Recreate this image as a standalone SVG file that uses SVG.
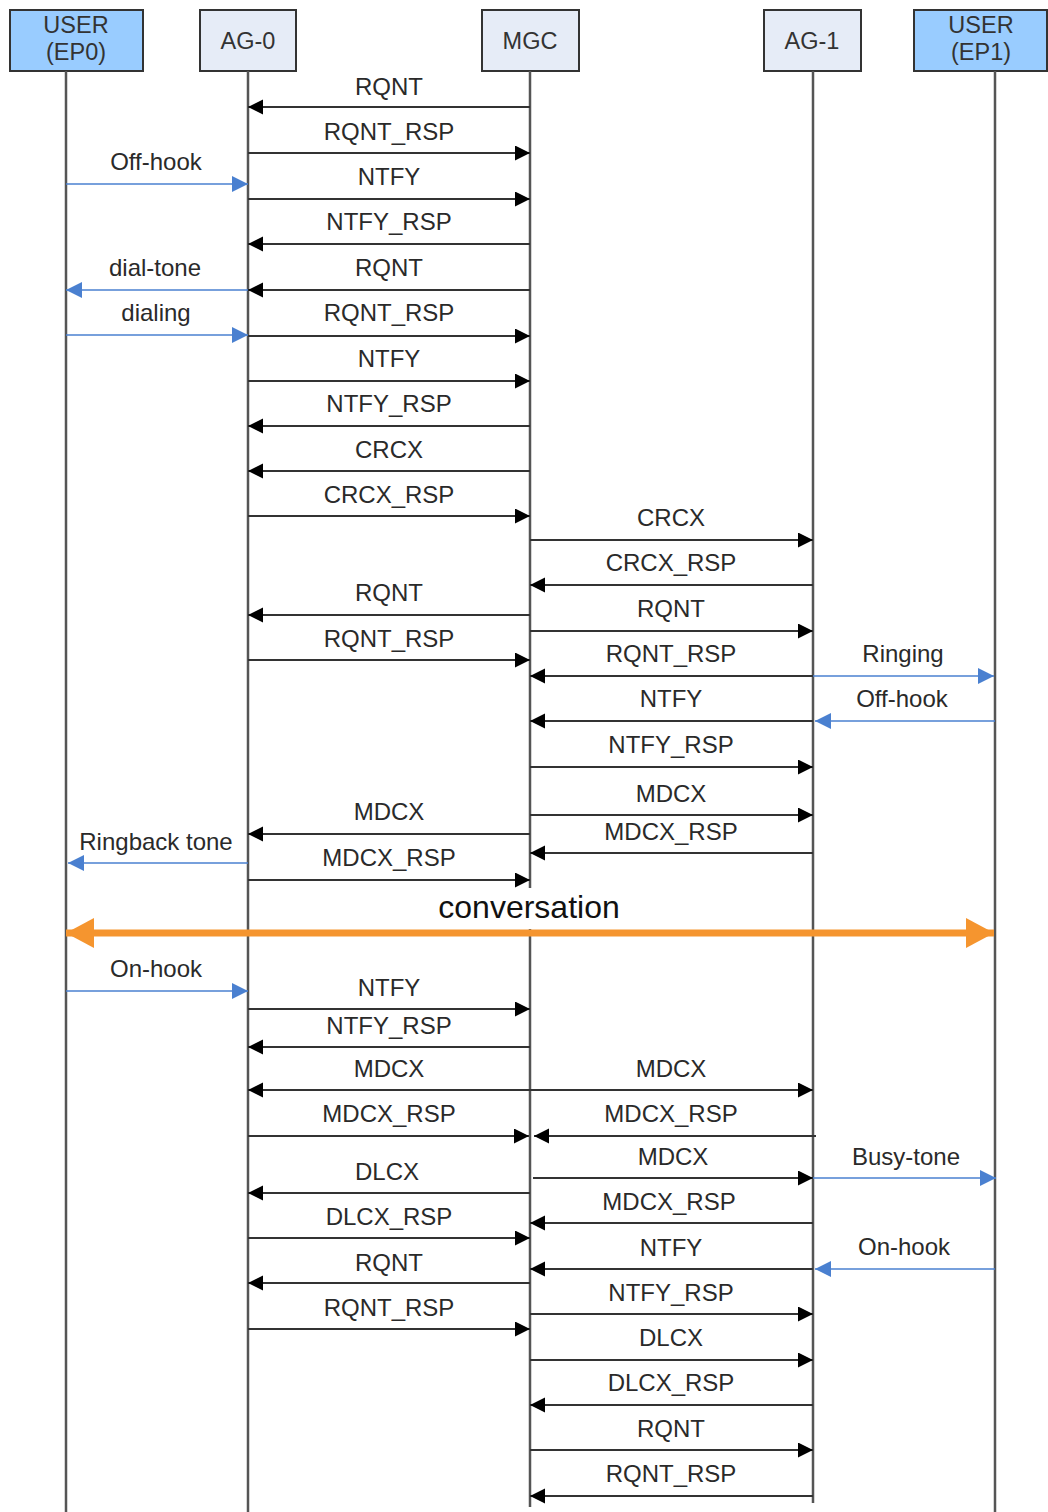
<svg xmlns="http://www.w3.org/2000/svg" width="1048" height="1512" viewBox="0 0 1048 1512">
  <style>
    text { font-family: "Liberation Sans", Arial, sans-serif; fill: #2a2a2a; }
    .lbl { font-size: 24px; text-anchor: middle; }
    .hdr { font-size: 23.5px; text-anchor: middle; fill: #333; }
    .big { font-size: 32px; text-anchor: middle; fill: #111; }
    .box-user { fill: #99ccff; stroke: #333; stroke-width: 2; }
    .box-ent { fill: #e6ecf7; stroke: #333; stroke-width: 2; }
    .life { stroke: #555; stroke-width: 2.5; fill: none; }
    .msg { stroke: #333; stroke-width: 2.2; fill: none; marker-end: url(#head); }
    .sig { stroke: #4a80d0; stroke-width: 1.6; fill: none; marker-end: url(#headBlue); }
    .conv { stroke: #f5952f; stroke-width: 7; fill: none; marker-start: url(#headOrangeL); marker-end: url(#headOrange); }
  </style>
  <defs>
    <marker id="head" markerUnits="userSpaceOnUse" markerWidth="16" markerHeight="16" refX="15" refY="7.5" orient="auto">
      <path d="M0,0 L15,7.5 L0,15 z" fill="#000"/>
    </marker>
    <marker id="headBlue" markerUnits="userSpaceOnUse" markerWidth="18" markerHeight="18" refX="16" refY="8" orient="auto">
      <path d="M0,0 L16,8 L0,16 z" fill="#4a80d0"/>
    </marker>
    <marker id="headOrange" markerUnits="userSpaceOnUse" markerWidth="30" markerHeight="32" refX="28" refY="15" orient="auto">
      <path d="M0,0 L28,15 L0,30 z" fill="#f5952f"/>
    </marker>
    <marker id="headOrangeL" markerUnits="userSpaceOnUse" markerWidth="30" markerHeight="32" refX="0" refY="15" orient="auto">
      <path d="M28,0 L0,15 L28,30 z" fill="#f5952f"/>
    </marker>
  </defs>

  <rect width="1048" height="1512" fill="#fff"/>

  <!-- participants -->
  <g id="ep0">
    <rect class="box-user" x="10" y="10" width="133" height="61"/>
    <text class="hdr" x="76" y="33">USER</text>
    <text class="hdr" x="76" y="60">(EP0)</text>
    <line class="life" x1="66" y1="71" x2="66" y2="1512"/>
  </g>
  <g id="ag0">
    <rect class="box-ent" x="200" y="10" width="96" height="61"/>
    <text class="hdr" x="248" y="49">AG-0</text>
    <line class="life" x1="248" y1="71" x2="248" y2="1512"/>
  </g>
  <g id="mgc">
    <rect class="box-ent" x="482" y="10" width="97" height="61"/>
    <text class="hdr" x="530" y="49">MGC</text>
    <line class="life" x1="530" y1="71" x2="530" y2="888"/>
    <line class="life" x1="530" y1="929" x2="530" y2="1507"/>
  </g>
  <g id="ag1">
    <rect class="box-ent" x="764" y="10" width="97" height="61"/>
    <text class="hdr" x="812" y="49">AG-1</text>
    <line class="life" x1="813" y1="71" x2="813" y2="1503"/>
  </g>
  <g id="ep1">
    <rect class="box-user" x="914" y="10" width="133" height="61"/>
    <text class="hdr" x="981" y="33">USER</text>
    <text class="hdr" x="981" y="60">(EP1)</text>
    <line class="life" x1="995" y1="71" x2="995" y2="1512"/>
  </g>

  <!-- messages -->
  <g id="connectors">
    <!-- AG-0 / MGC -->
    <line class="msg" x1="530" y1="107" x2="248" y2="107"/><text class="lbl" x="389" y="95">RQNT</text>
    <line class="msg" x1="248" y1="153" x2="530" y2="153"/><text class="lbl" x="389" y="140">RQNT_RSP</text>
    <line class="msg" x1="248" y1="199" x2="530" y2="199"/><text class="lbl" x="389" y="185">NTFY</text>
    <line class="msg" x1="530" y1="244" x2="248" y2="244"/><text class="lbl" x="389" y="230">NTFY_RSP</text>
    <line class="msg" x1="530" y1="290" x2="248" y2="290"/><text class="lbl" x="389" y="276">RQNT</text>
    <line class="msg" x1="248" y1="336" x2="530" y2="336"/><text class="lbl" x="389" y="321">RQNT_RSP</text>
    <line class="msg" x1="248" y1="381" x2="530" y2="381"/><text class="lbl" x="389" y="367">NTFY</text>
    <line class="msg" x1="530" y1="426" x2="248" y2="426"/><text class="lbl" x="389" y="412">NTFY_RSP</text>
    <line class="msg" x1="530" y1="471" x2="248" y2="471"/><text class="lbl" x="389" y="458">CRCX</text>
    <line class="msg" x1="248" y1="516" x2="530" y2="516"/><text class="lbl" x="389" y="503">CRCX_RSP</text>
    <line class="msg" x1="530" y1="615" x2="248" y2="615"/><text class="lbl" x="389" y="601">RQNT</text>
    <line class="msg" x1="248" y1="660" x2="530" y2="660"/><text class="lbl" x="389" y="647">RQNT_RSP</text>
    <line class="msg" x1="530" y1="834" x2="248" y2="834"/><text class="lbl" x="389" y="820">MDCX</text>
    <line class="msg" x1="248" y1="880" x2="530" y2="880"/><text class="lbl" x="389" y="866">MDCX_RSP</text>
    <line class="msg" x1="248" y1="1009" x2="530" y2="1009"/><text class="lbl" x="389" y="996">NTFY</text>
    <line class="msg" x1="530" y1="1047" x2="248" y2="1047"/><text class="lbl" x="389" y="1034">NTFY_RSP</text>
    <line class="msg" x1="530" y1="1090" x2="248" y2="1090"/><text class="lbl" x="389" y="1077">MDCX</text>
    <line class="msg" x1="248" y1="1136" x2="529" y2="1136"/><text class="lbl" x="389" y="1122">MDCX_RSP</text>
    <line class="msg" x1="530" y1="1193" x2="248" y2="1193"/><text class="lbl" x="387" y="1180">DLCX</text>
    <line class="msg" x1="248" y1="1238" x2="530" y2="1238"/><text class="lbl" x="389" y="1225">DLCX_RSP</text>
    <line class="msg" x1="530" y1="1283" x2="248" y2="1283"/><text class="lbl" x="389" y="1271">RQNT</text>
    <line class="msg" x1="248" y1="1329" x2="530" y2="1329"/><text class="lbl" x="389" y="1316">RQNT_RSP</text>

    <!-- MGC / AG-1 -->
    <line class="msg" x1="530" y1="540" x2="813" y2="540"/><text class="lbl" x="671" y="526">CRCX</text>
    <line class="msg" x1="813" y1="585" x2="530" y2="585"/><text class="lbl" x="671" y="571">CRCX_RSP</text>
    <line class="msg" x1="530" y1="631" x2="813" y2="631"/><text class="lbl" x="671" y="617">RQNT</text>
    <line class="msg" x1="813" y1="676" x2="530" y2="676"/><text class="lbl" x="671" y="662">RQNT_RSP</text>
    <line class="msg" x1="813" y1="721" x2="530" y2="721"/><text class="lbl" x="671" y="707">NTFY</text>
    <line class="msg" x1="530" y1="767" x2="813" y2="767"/><text class="lbl" x="671" y="753">NTFY_RSP</text>
    <line class="msg" x1="530" y1="815" x2="813" y2="815"/><text class="lbl" x="671" y="802">MDCX</text>
    <line class="msg" x1="813" y1="853" x2="530" y2="853"/><text class="lbl" x="671" y="840">MDCX_RSP</text>
    <line class="msg" x1="530" y1="1090" x2="813" y2="1090"/><text class="lbl" x="671" y="1077">MDCX</text>
    <line class="msg" x1="816" y1="1136" x2="534" y2="1136"/><text class="lbl" x="671" y="1122">MDCX_RSP</text>
    <line class="msg" x1="533" y1="1178" x2="813" y2="1178"/><text class="lbl" x="673" y="1165">MDCX</text>
    <line class="msg" x1="813" y1="1223" x2="530" y2="1223"/><text class="lbl" x="669" y="1210">MDCX_RSP</text>
    <line class="msg" x1="813" y1="1269" x2="530" y2="1269"/><text class="lbl" x="671" y="1256">NTFY</text>
    <line class="msg" x1="530" y1="1314" x2="813" y2="1314"/><text class="lbl" x="671" y="1301">NTFY_RSP</text>
    <line class="msg" x1="530" y1="1360" x2="813" y2="1360"/><text class="lbl" x="671" y="1346">DLCX</text>
    <line class="msg" x1="813" y1="1405" x2="530" y2="1405"/><text class="lbl" x="671" y="1391">DLCX_RSP</text>
    <line class="msg" x1="530" y1="1450" x2="813" y2="1450"/><text class="lbl" x="671" y="1437">RQNT</text>
    <line class="msg" x1="813" y1="1496" x2="530" y2="1496"/><text class="lbl" x="671" y="1482">RQNT_RSP</text>

    <!-- user signals -->
    <line class="sig" x1="66" y1="184" x2="248" y2="184"/><text class="lbl" x="156" y="170">Off-hook</text>
    <line class="sig" x1="248" y1="290" x2="66" y2="290"/><text class="lbl" x="155" y="276">dial-tone</text>
    <line class="sig" x1="66" y1="335" x2="248" y2="335"/><text class="lbl" x="156" y="321">dialing</text>
    <line class="sig" x1="813" y1="676" x2="994" y2="676"/><text class="lbl" x="903" y="662">Ringing</text>
    <line class="sig" x1="995" y1="721" x2="815" y2="721"/><text class="lbl" x="902" y="707">Off-hook</text>
    <line class="sig" x1="248" y1="863" x2="68" y2="863"/><text class="lbl" x="156" y="850">Ringback tone</text>
    <line class="sig" x1="66" y1="991" x2="248" y2="991"/><text class="lbl" x="156" y="977">On-hook</text>
    <line class="sig" x1="813" y1="1178" x2="996" y2="1178"/><text class="lbl" x="906" y="1165">Busy-tone</text>
    <line class="sig" x1="995" y1="1269" x2="815" y2="1269"/><text class="lbl" x="904" y="1255">On-hook</text>

    <!-- conversation -->
    <line class="conv" x1="66" y1="933" x2="994" y2="933"/>
    <text class="big" x="529" y="918">conversation</text>
  </g>
</svg>
